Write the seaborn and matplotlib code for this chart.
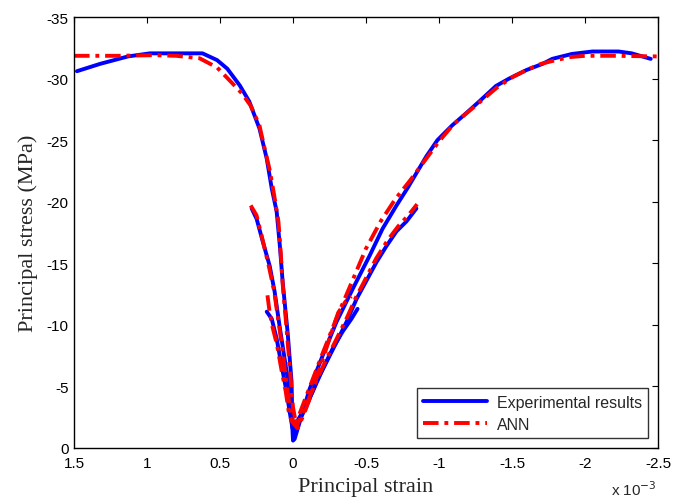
import numpy as np
import pandas as pd
import matplotlib
matplotlib.use("Agg")
import matplotlib.pyplot as plt
import seaborn as sns

# strain in units of 1e-3, stress in MPa
# experimental: three specimens (left branch down to origin, then right branch)
exp1_strain = [1.48, 1.32, 1.13, 0.98, 0.80, 0.62, 0.52, 0.45, 0.365, 0.30, 0.23, 0.18,
               0.146, 0.112, 0.09, 0.071, 0.037, 0.01, 0.003, 0.0,
               -0.011, -0.114, -0.203, -0.298, -0.408, -0.524, -0.613, -0.709, -0.784,
               -0.914, -0.989, -1.09, -1.187, -1.276, -1.39, -1.48, -1.60, -1.71, -1.775,
               -1.91, -2.05, -2.23, -2.32, -2.45]
exp1_stress = [-30.6, -31.2, -31.8, -32.05, -32.05, -32.05, -31.5, -30.8, -29.45, -28.15, -25.95, -23.5,
               -21.1, -19.2, -16.4, -13.5, -9.4, -5.4, -1.3, -0.6,
               -0.73, -4.8, -7.5, -10.25, -12.9, -15.6, -17.8, -19.7, -21.1,
               -23.7, -25.0, -26.2, -27.2, -28.15, -29.4, -30.0, -30.7, -31.2, -31.6,
               -32.0, -32.2, -32.2, -32.05, -31.6]

exp2_strain = [0.283, 0.249, 0.208, 0.16, 0.126, 0.092, 0.057, 0.023, 0.01, -0.004,
               -0.025, -0.093, -0.162, -0.23, -0.298, -0.367, -0.435, -0.572, -0.64,
               -0.709, -0.777, -0.845]
exp2_stress = [-19.45, -18.6, -16.8, -14.8, -12.7, -9.9, -7.2, -4.6, -2.6, -0.9,
               -1.8, -3.4, -5.4, -7.0, -8.6, -10.25, -12.1, -15.1, -16.4,
               -17.6, -18.4, -19.45]

exp3_strain = [0.18, 0.146, 0.112, 0.078, 0.044, 0.023, 0.003, -0.025, -0.066, -0.134,
               -0.203, -0.271, -0.339, -0.401, -0.442]
exp3_stress = [-11.07, -10.5, -8.87, -6.67, -4.56, -2.93, -1.55, -2.1, -2.93, -4.56,
               -6.4, -8.05, -9.44, -10.5, -11.3]

# ANN predictions
ann1_strain = [1.5, 1.2, 0.95, 0.8, 0.64, 0.52, 0.43, 0.35, 0.29, 0.23, 0.2, 0.16, 0.13,
               0.1, 0.085, 0.07, 0.045, 0.02, 0.0, -0.02,
               -0.1, -0.2, -0.3, -0.4, -0.5, -0.6, -0.7, -0.8, -0.9, -1.0, -1.1, -1.2,
               -1.3, -1.4, -1.5, -1.6, -1.7, -1.8, -1.9, -2.0, -2.2, -2.5]
ann1_stress = [-31.85, -31.85, -31.9, -31.85, -31.65, -30.9, -29.8, -28.8, -27.8, -26.2, -24.6, -22.6, -20.6,
               -18.4, -16.0, -13.2, -9.8, -6.2, -3.3, -2.0,
               -4.5, -7.6, -10.6, -13.4, -16.2, -18.4, -20.2, -21.7, -23.3, -24.9, -26.3, -27.3,
               -28.3, -29.3, -30.1, -30.7, -31.2, -31.5, -31.75, -31.85, -31.85, -31.8]

ann2_strain = [0.29, 0.25, 0.21, 0.17, 0.13, 0.1, 0.07, 0.045, 0.02, 0.0, -0.03,
               -0.08, -0.15, -0.22, -0.3, -0.37, -0.43, -0.5, -0.57, -0.65, -0.72,
               -0.79, -0.85]
ann2_stress = [-19.7, -18.9, -17.0, -15.0, -12.8, -10.3, -7.8, -5.2, -3.2, -2.2, -1.9,
               -3.2, -5.2, -7.0, -8.9, -10.6, -12.2, -13.8, -15.4, -16.9, -18.0,
               -18.9, -19.8]

ann3_strain = [0.175, 0.16, 0.14, 0.11, 0.08, 0.05, 0.03, 0.01, -0.03, -0.07, -0.12,
               -0.17, -0.22, -0.27, -0.31, -0.36, -0.4]
ann3_stress = [-12.4, -11.0, -9.8, -8.4, -6.4, -4.6, -3.0, -2.2, -1.6, -2.6, -4.2,
               -6.0, -7.8, -9.6, -11.0, -11.9, -12.3]

x_ticks = [1.5, 1, 0.5, 0, -0.5, -1, -1.5, -2, -2.5]
x_tick_labels = ["1.5", "1", "0.5", "0", "-0.5", "-1", "-1.5", "-2", "-2.5"]
y_ticks = [0, -5, -10, -15, -20, -25, -30, -35]

sns.set_style("white")
plt.rcParams["font.family"] = ["Liberation Sans", "DejaVu Sans"]
plt.rcParams["axes.unicode_minus"] = False

fig = plt.figure(figsize=(6.74, 5.02), dpi=100)
ax = fig.add_axes([0.1098, 0.1056, 0.8665, 0.8585])

exp_sets = [(exp1_strain, exp1_stress), (exp2_strain, exp2_stress), (exp3_strain, exp3_stress)]
ann_sets = [(ann1_strain, ann1_stress), (ann2_strain, ann2_stress), (ann3_strain, ann3_stress)]

for i, (sx, sy) in enumerate(exp_sets):
    df = pd.DataFrame({"strain": sx, "stress": sy})
    sns.lineplot(data=df, x="strain", y="stress", sort=False, estimator=None,
                 color="#0000ff", lw=2.8, ax=ax,
                 label="Experimental results" if i == 0 else None)
for i, (sx, sy) in enumerate(ann_sets):
    df = pd.DataFrame({"strain": sx, "stress": sy})
    sns.lineplot(data=df, x="strain", y="stress", sort=False, estimator=None,
                 color="#ff0000", lw=2.8, linestyle=(0, (4, 1.5, 1, 1.5)), ax=ax,
                 label="ANN" if i == 0 else None)

ax.set_xlim(1.5, -2.5)
ax.set_ylim(0, -35)
ax.set_xticks(x_ticks)
ax.set_xticklabels(x_tick_labels)
ax.set_yticks(y_ticks)
ax.tick_params(direction="in", top=True, right=True, length=4, width=0.8,
               labelsize=11, colors="black")
ax.tick_params(axis="x", pad=6)
ax.tick_params(axis="y", pad=4)
for s in ax.spines.values():
    s.set_linewidth(1.0)
    s.set_color("black")

ax.set_xlabel("Principal strain", family="Liberation Serif", fontsize=16, labelpad=5)
ax.set_ylabel("Principal stress (MPa)", family="Liberation Serif", fontsize=16, labelpad=6)
fig.text(0.907, 0.006, r"x 10$^{-3}$", fontsize=11, ha="left", va="bottom")

leg = ax.legend(loc="lower right", fontsize=11.5, frameon=True, fancybox=False,
                edgecolor="black", borderaxespad=0.6, handlelength=4.0,
                labelspacing=0.45, borderpad=0.4, handletextpad=0.6)
leg.get_frame().set_linewidth(1.0)

fig.savefig("out.png", dpi=100)
